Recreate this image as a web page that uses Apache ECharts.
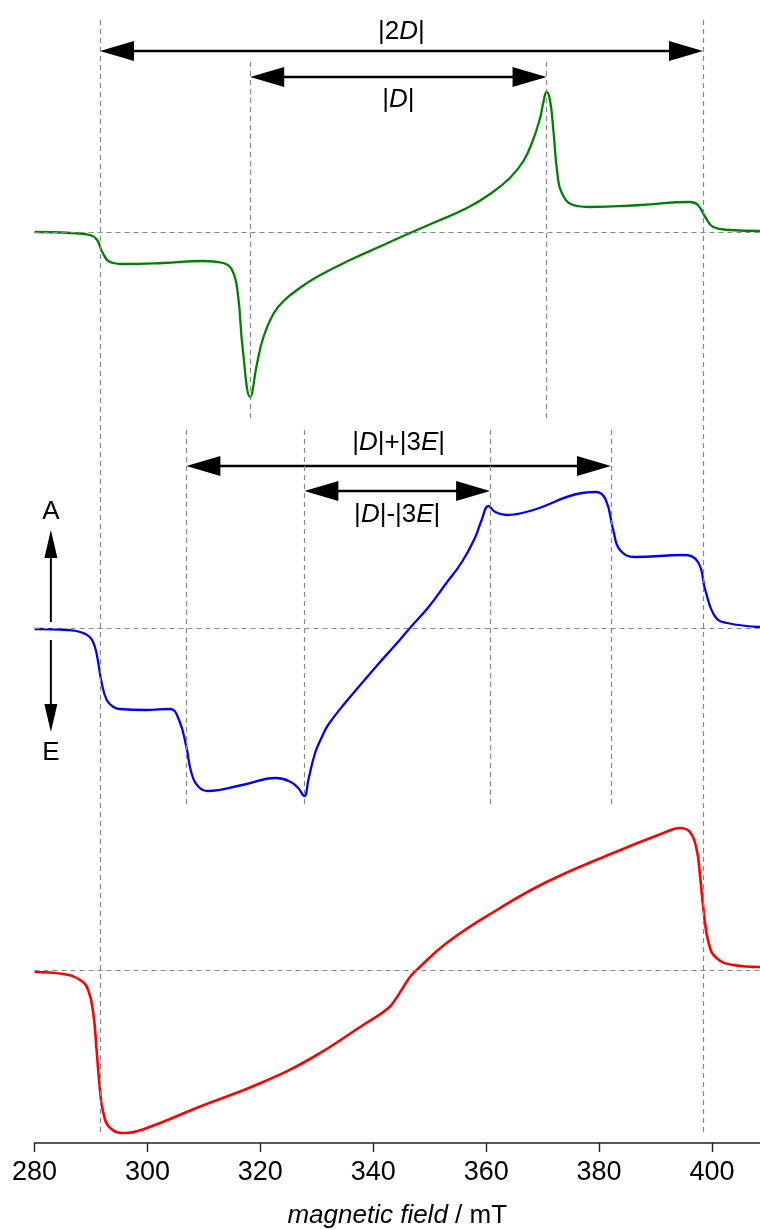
<!DOCTYPE html>
<html>
<head>
<meta charset="utf-8">
<script src="https://cdn.jsdelivr.net/npm/echarts@6.0.0/dist/echarts.min.js"></script>
<style>
  html, body { margin: 0; padding: 0; background: #fff; }
  #chart { width: 760px; height: 1230px; }
</style>
</head>
<body>
<div id="chart"></div>
<script>
// field axis (mT)
const fieldTicks = [280, 300, 320, 340, 360, 380, 400]

// green trace (top)
const greenField = [280, 286.3, 289.8, 291.1, 292.0, 293.4, 295.7, 302.8, 309.8, 313.4, 315.0, 316.0, 316.9, 318.2, 319.4, 320.5, 322.3, 324.1, 327.0, 330.0, 335.9, 341.8, 346.5, 350.6, 356.6, 360.7, 364.2, 366.6, 368.3, 369.6, 370.1, 370.7, 371.3, 371.9, 372.6, 373.4, 375.4, 378.4, 387.3, 396.1, 397.5, 398.8, 400.2, 403.2, 408.5]
const greenSignal = [0, -0.01, -0.03, -0.08, -0.20, -0.30, -0.32, -0.31, -0.29, -0.31, -0.38, -0.61, -1.18, -1.65, -1.32, -1.06, -0.82, -0.69, -0.56, -0.45, -0.28, -0.13, -0.01, 0.09, 0.24, 0.38, 0.54, 0.71, 0.92, 1.15, 1.29, 1.40, 1.32, 1.02, 0.59, 0.39, 0.27, 0.25, 0.27, 0.30, 0.27, 0.15, 0.05, 0.02, 0.01]

// blue trace (middle)
const blueField = [280, 285.7, 288.1, 289.8, 290.7, 291.3, 291.9, 292.8, 294.0, 295.1, 299.6, 304.0, 305.6, 306.9, 307.8, 309.1, 310.7, 316.8, 322.8, 325.4, 326.7, 327.8, 328.5, 329.7, 330.9, 332.0, 335.0, 338.0, 340.9, 343.9, 346.5, 349.8, 352.7, 355.7, 358.0, 359.2, 360.4, 361.6, 363.6, 368.3, 377.0, 379.5, 381.2, 382.5, 383.7, 386.4, 394.9, 397.5, 398.8, 400.6, 402.7, 408.5]
const blueSignal = [-0.01, -0.02, -0.04, -0.09, -0.19, -0.35, -0.55, -0.72, -0.79, -0.81, -0.82, -0.81, -0.92, -1.19, -1.45, -1.59, -1.63, -1.57, -1.50, -1.54, -1.60, -1.68, -1.52, -1.25, -1.09, -0.97, -0.75, -0.55, -0.36, -0.17, 0, 0.21, 0.43, 0.66, 0.90, 1.08, 1.22, 1.16, 1.13, 1.18, 1.35, 1.36, 1.28, 0.98, 0.78, 0.71, 0.73, 0.66, 0.38, 0.11, 0.05, 0.01]

// red trace (bottom)
const redField = [280, 285.1, 288.1, 289.5, 290.4, 291.0, 291.6, 292.2, 293.4, 296.0, 299.9, 308.7, 320.5, 329.4, 338.2, 342.7, 344.2, 345.0, 346.5, 347.7, 353.0, 361.9, 370.7, 382.5, 391.4, 394.3, 396.1, 397.3, 397.9, 398.5, 399.4, 400.8, 403.8, 408.5]
const redSignal = [-0.02, -0.04, -0.10, -0.20, -0.43, -0.80, -1.20, -1.43, -1.58, -1.63, -1.58, -1.38, -1.12, -0.87, -0.55, -0.38, -0.27, -0.20, -0.07, 0, 0.27, 0.60, 0.88, 1.17, 1.37, 1.42, 1.38, 1.20, 0.93, 0.60, 0.27, 0.12, 0.05, 0.03]

// guide lines (mT)
const outerGuides = [291.6, 398.4]
const greenGuides = [318.2, 370.7]
const blueGuides = [306.9, 327.8, 360.7, 382.1]

// distance arrows: from, to (mT) and label
const arrowFrom = [291.6, 318.2, 306.9, 327.8]
const arrowTo = [398.4, 370.7, 382.1, 360.7]
const arrowText = ['|2{i|D}|', '|{i|D}|', '|{i|D}|+|3{i|E}|', '|{i|D}|-|3{i|E}|']

// layout (stacking offsets / arrow rows, in plot units)
const FONT = '"Liberation Sans", Arial, Helvetica, sans-serif'
const offsets = { green: 9.11, blue: 5.15, red: 1.73 }
const arrowRow = [10.92, 10.66, 6.77, 6.52]
const arrowLabelDy = [-19, 23, -23, 24]
const sideX = 282.9

const build = (xs, ys, off) => xs.map((x, i) => [x, ys[i] + off])
const vGuide = (x, y1, y2) => [{ coord: [x, y1] }, { coord: [x, y2] }]
const hGuide = (y) => [{ coord: [280, y] }, { coord: [408.5, y] }]

const guideLines = []
outerGuides.forEach(x => guideLines.push(vGuide(x, 11.23, 0.08)))
greenGuides.forEach(x => guideLines.push(vGuide(x, 10.81, 7.25)))
blueGuides.forEach(x => guideLines.push(vGuide(x, 7.13, 3.37)))
Object.values(offsets).forEach(y => guideLines.push(hGuide(y)))

function renderDoubleArrow(params, api) {
  const i = params.dataIndex
  const p1 = api.coord([api.value(0), api.value(2)])
  const p2 = api.coord([api.value(1), api.value(2)])
  const hl = 34, hw = 10
  return {
    type: 'group',
    children: [
      { type: 'line', shape: { x1: p1[0] + hl - 2, y1: p1[1], x2: p2[0] - hl + 2, y2: p2[1] }, style: { stroke: '#000', lineWidth: 2.6 } },
      { type: 'polygon', shape: { points: [[p1[0], p1[1]], [p1[0] + hl, p1[1] - hw], [p1[0] + hl, p1[1] + hw]] }, style: { fill: '#000' } },
      { type: 'polygon', shape: { points: [[p2[0], p2[1]], [p2[0] - hl, p2[1] - hw], [p2[0] - hl, p2[1] + hw]] }, style: { fill: '#000' } },
      {
        type: 'text',
        style: {
          text: arrowText[i], x: (p1[0] + p2[0]) / 2, y: p1[1] + arrowLabelDy[i],
          align: 'center', verticalAlign: 'middle', fill: '#000', fontSize: 26, fontFamily: FONT,
          rich: { i: { fontStyle: 'italic', fontSize: 26, fontFamily: FONT, fill: '#000' } }
        }
      }
    ]
  }
}

// A / E direction arrows: start, tip, label position, label
const sideArrows = [[5.21, 6.13, 6.31, 'A'], [5.03, 4.11, 3.90, 'E']]
function renderSideArrow(params, api) {
  const it = sideArrows[params.dataIndex]
  const p1 = api.coord([sideX, it[0]])
  const p2 = api.coord([sideX, it[1]])
  const pl = api.coord([sideX, it[2]])
  const dir = p2[1] < p1[1] ? 1 : -1
  const hl = 28, hw = 6.5
  return {
    type: 'group',
    children: [
      { type: 'line', shape: { x1: p1[0], y1: p1[1], x2: p2[0], y2: p2[1] + dir * (hl - 2) }, style: { stroke: '#000', lineWidth: 2 } },
      { type: 'polygon', shape: { points: [[p2[0], p2[1]], [p2[0] - hw, p2[1] + dir * hl], [p2[0] + hw, p2[1] + dir * hl]] }, style: { fill: '#000' } },
      { type: 'text', style: { text: it[3], x: pl[0], y: pl[1], align: 'center', verticalAlign: 'middle', fill: '#000', fontSize: 26, fontFamily: FONT } }
    ]
  }
}

const traceStyle = (color, width) => ({
  type: 'line', smooth: 0.45, showSymbol: false, z: 3, silent: true,
  lineStyle: { color: color, width: width, join: 'round' }
})

const chart = echarts.init(document.getElementById('chart'), null, { renderer: 'canvas' })
chart.setOption({
  animation: false,
  backgroundColor: '#fff',
  grid: { left: 34.5, right: 0, top: 0, bottom: 87, containLabel: false, outerBoundsMode: 'none' },
  xAxis: {
    type: 'value', min: 280, max: 408.5,
    name: '{i|magnetic field} / mT',
    nameLocation: 'middle', nameGap: 60,
    nameTextStyle: {
      fontSize: 26, fontFamily: FONT, color: '#000',
      rich: { i: { fontStyle: 'italic', fontSize: 26, fontFamily: FONT, color: '#000' } }
    },
    axisLine: { lineStyle: { color: '#222', width: 1.6 } },
    axisTick: { length: 9, customValues: fieldTicks, lineStyle: { color: '#222', width: 1.4 } },
    axisLabel: { customValues: fieldTicks, margin: 16, fontSize: 27, fontFamily: FONT, color: '#000' },
    splitLine: { show: false }
  },
  yAxis: { type: 'value', min: 0, max: 11.43, show: false },
  series: [
    {
      type: 'line', data: [], z: 1, silent: true,
      markLine: {
        silent: true, symbol: ['none', 'none'], label: { show: false },
        lineStyle: { type: [5, 4], color: '#888', width: 1.2 },
        data: guideLines
      }
    },
    Object.assign(traceStyle('#008000', 2.3), { data: build(greenField, greenSignal, offsets.green) }),
    Object.assign(traceStyle('#0000ff', 2.3), { data: build(blueField, blueSignal, offsets.blue) }),
    Object.assign(traceStyle('#ff0000', 2.6), { data: build(redField, redSignal, offsets.red) }),
    {
      type: 'custom', z: 4, clip: false, silent: true,
      data: arrowFrom.map((x, i) => [x, arrowTo[i], arrowRow[i]]),
      encode: { x: [0, 1], y: 2 },
      renderItem: renderDoubleArrow
    },
    {
      type: 'custom', z: 4, clip: false, silent: true,
      data: sideArrows.map(a => [sideX, a[0], a[1]]),
      encode: { x: 0, y: [1, 2] },
      renderItem: renderSideArrow
    }
  ]
})
</script>
</body>
</html>
